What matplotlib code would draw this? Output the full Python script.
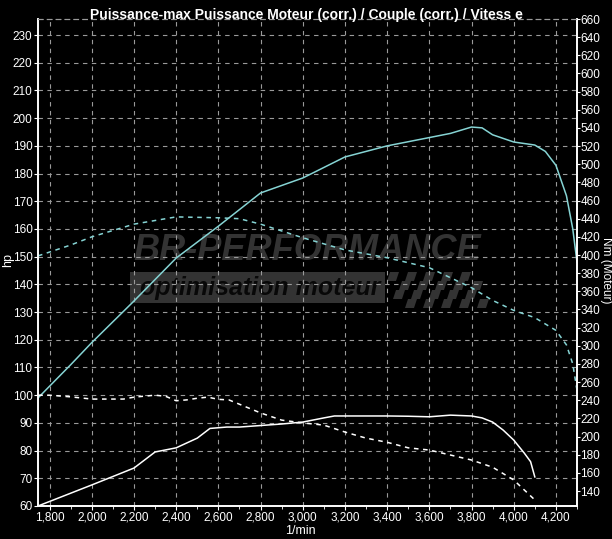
import numpy as np
import matplotlib
matplotlib.use("Agg")
import matplotlib.pyplot as plt
import matplotlib.ticker as ticker
from matplotlib.patches import Rectangle, Polygon

plt.rcParams["font.family"] = ["Liberation Sans Narrow", "Liberation Sans", "DejaVu Sans"]

# power (hp, left axis) - cyan solid
rpm_power = [1745, 1900, 2000, 2200, 2400, 2600, 2800, 3000, 3200, 3400, 3600,
             3700, 3800, 3850, 3900, 4000, 4100, 4150, 4200, 4250, 4280, 4300]
power_hp = [99, 111, 119, 134, 149.5, 161, 173, 178.4, 186, 190, 193,
            194.5, 196.8, 196.5, 194, 191.4, 190.3, 188, 183, 172, 160, 148]

# torque (Nm, right axis) - cyan dashed
rpm_torque = [1745, 1900, 2000, 2200, 2400, 2600, 2700, 2800, 3000, 3200, 3400,
              3600, 3700, 3800, 3900, 4000, 4100, 4200, 4250, 4280, 4300]
torque_nm = [399, 411, 420, 434, 442, 441, 440, 434, 419, 405.6, 397,
             386, 375, 364, 350, 339, 331, 317, 301, 280, 251]

# white solid (hp)
rpm_white = [1745, 2000, 2200, 2300, 2400, 2500, 2560, 2640, 2700, 2900, 3000,
             3100, 3150, 3300, 3400, 3500, 3600, 3700, 3800, 3850, 3900, 3950,
             4000, 4050, 4080, 4100]
white_hp = [60, 67.6, 73.7, 79.5, 81, 84.5, 88, 88.5, 88.5, 89.6, 90.3,
            91.8, 92.5, 92.5, 92.5, 92.4, 92.2, 92.8, 92.5, 91.8, 90.3, 87.4,
            83.8, 79.1, 76, 70.5]

# white dashed (hp)
rpm_wdash = [1745, 1800, 1900, 2000, 2150, 2200, 2300, 2350, 2400, 2450, 2500,
             2550, 2600, 2650, 2800, 2900, 3000, 3100, 3200, 3300, 3400, 3500,
             3600, 3700, 3800, 3900, 4000, 4050, 4100]
wdash_hp = [100, 100, 99.4, 98.6, 98.6, 99.3, 100, 99.6, 98, 98.3, 98.9,
            99.3, 98.5, 98.3, 93.6, 91, 90, 89.2, 86.7, 84.5, 83, 81,
            80.2, 78.4, 76.6, 74, 69.4, 65.8, 62.2]

CYAN = "#86d4d4"
GRID = "#9a9a9a"
MARK = "#333333"

fig = plt.figure(figsize=(6.12, 5.39), dpi=100, facecolor="black")
ax = fig.add_axes([38 / 612, 33 / 539, 539 / 612, 487 / 539], facecolor="black")
ax2 = ax.twinx()

ax.set_xlim(1745, 4300)
ax.set_ylim(60, 235.8)
ax2.set_ylim(123.5, 660)

ax.set_xticks(np.arange(1800, 4201, 200))
ax.xaxis.set_minor_locator(ticker.MultipleLocator(100))
ax.xaxis.set_major_formatter(ticker.FuncFormatter(lambda v, p: f"{int(v):,}"))
ax.set_yticks(np.arange(60, 231, 10))
ax2.set_yticks(np.arange(140, 661, 20))

ax.grid(True, which="major", color=GRID, linestyle=(0, (4, 4)), linewidth=0.8)
ax.set_axisbelow(True)

for a in (ax, ax2):
    for side in ("left", "right", "bottom"):
        a.spines[side].set_color("white")
        a.spines[side].set_linewidth(1.2)
    a.spines["top"].set_color(GRID)
    a.spines["top"].set_linestyle((0, (4, 4)))
    a.spines["top"].set_linewidth(0.8)
    a.tick_params(colors="white", labelsize=8.5, length=3, width=0.8, pad=1)
ax.tick_params(axis="x", which="minor", colors="white", length=2)
ax2.tick_params(axis="y", length=2, pad=0.5)

# axis titles placed in figure coordinates so they stay inside the image
fig.text(8 / 612, 1 - 260 / 539, "hp", color="white", fontsize=9,
         rotation=90, ha="center", va="center")
fig.text(606 / 612, 1 - 270 / 539, "Nm (Moteur)", color="white", fontsize=8.5,
         rotation=270, ha="center", va="center")
fig.text(300 / 612, 1 - 531 / 539, "1/min", color="white", fontsize=9,
         ha="center", va="center")
fig.text(0.5, 0.985, "Puissance-max Puissance Moteur (corr.) / Couple (corr.) / Vitess e",
         color="white", fontsize=10, fontweight="bold", ha="center", va="top")

# watermark
fig.text(133 / 612, 1 - 268 / 539, "BR-PERFORMANCE", color=MARK, fontsize=26,
         fontweight="bold", style="italic", ha="left", va="bottom",
         family=["Liberation Sans", "DejaVu Sans"], zorder=0.5)
fig.patches.append(Rectangle((130 / 612, 1 - 303 / 539), 255 / 612, 31 / 539,
                             transform=fig.transFigure, facecolor=MARK,
                             edgecolor="none", zorder=0.5))
fig.text(140 / 612, 1 - 300 / 539, "optimisation moteur", color="#080808", fontsize=18,
         fontweight="bold", style="italic", ha="left", va="bottom",
         family=["Liberation Sans", "DejaVu Sans"], zorder=0.6)
sq = 9
for r in range(4):
    for c in range(10):
        if (r + c) % 2:
            continue
        x0 = 390 + c * sq + r * 3
        y0 = 272 + r * sq
        pts = [(x0, y0), (x0 + sq, y0), (x0 + sq - 3, y0 + sq), (x0 - 3, y0 + sq)]
        pts = [(px / 612, 1 - py / 539) for px, py in pts]
        fig.patches.append(Polygon(pts, closed=True, transform=fig.transFigure,
                                   facecolor=MARK, edgecolor="none", zorder=0.5))

ax.patch.set_alpha(0)
ax.set_zorder(1)
ax2.set_zorder(2)
ax2.patch.set_visible(False)

ax.plot(rpm_power, power_hp, color=CYAN, lw=1.1)
ax.plot(rpm_white, white_hp, color="white", lw=1.1)
ax.plot(rpm_wdash, wdash_hp, color="white", lw=1.1, linestyle=(0, (3, 3)))
ax2.plot(rpm_torque, torque_nm, color=CYAN, lw=1.1, linestyle=(0, (3, 3)))

fig.savefig("out.png", dpi=100, facecolor="black")
